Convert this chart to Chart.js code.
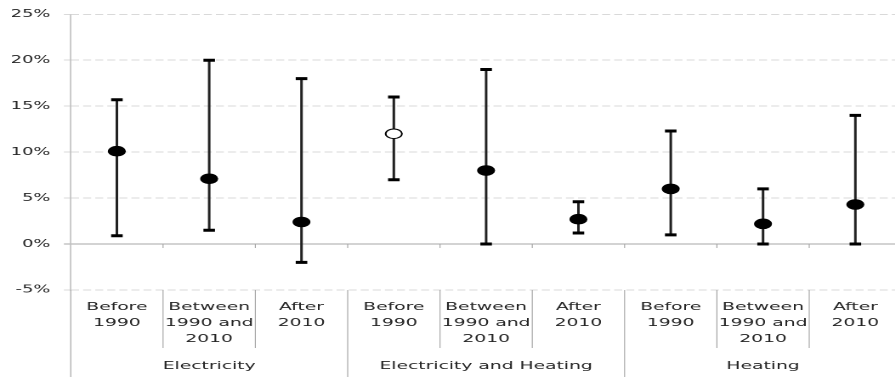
<!DOCTYPE html>
<html>
<head>
<meta charset="utf-8">
<script src="https://cdn.jsdelivr.net/npm/chart.js@4.4.1/dist/chart.umd.min.js"></script>
<style>
html,body{margin:0;padding:0;background:#fff;overflow:hidden;width:895px;height:377px;}
#wrap{position:absolute;left:0;top:0;height:377px;transform-origin:0 0;}
</style>
</head>
<body>
<div id="wrap"><canvas id="c"></canvas></div>
<script>
// ---- data ----
const subLabels = [
  ['Before', '1990'], ['Between', '1990 and', '2010'], ['After', '2010'],
  ['Before', '1990'], ['Between', '1990 and', '2010'], ['After', '2010'],
  ['Before', '1990'], ['Between', '1990 and', '2010'], ['After', '2010']
];
const groupLabels = ['Electricity', 'Electricity and Heating', 'Heating'];
const groupSize = 3;
const centralValues = [10.1, 7.1, 2.4, 12.0, 8.0, 2.7, 6.0, 2.2, 4.3];
const lowValues     = [0.9, 1.5, -2.0, 7.0, 0.0, 1.2, 1.0, 0.0, 0.0];
const highValues    = [15.7, 20.0, 18.0, 16.0, 19.0, 4.6, 12.3, 6.0, 14.0];
const markerFilled  = [true, true, true, false, true, true, true, true, true];
const yMin = -5, yMax = 25, yStep = 5;

// ---- layout (horizontal stretch like the reference) ----
const S = 1.7;
const W = 531;
const wrap = document.getElementById('wrap');
wrap.style.width = W + 'px';
wrap.style.transform = 'scaleX(' + S + ')';

const textColor = '#262626';
const gridColor = '#d9d9d9';
const axisColor = '#a6a6a6';

const sepPlugin = {
  id: 'sep',
  beforeDatasetsDraw(chart) {
    const {ctx, scales: {x, y}} = chart;
    const y0 = y.getPixelForValue(0);
    ctx.save();
    ctx.strokeStyle = axisColor;
    ctx.lineWidth = 1 / S;
    ctx.beginPath();
    for (let i = 1; i < subLabels.length; i++) {
      const px = (x.getPixelForValue(i - 1) + x.getPixelForValue(i)) / 2;
      ctx.moveTo(px, y0);
      ctx.lineTo(px, y0 + 4);
    }
    ctx.stroke();
    ctx.restore();
  },
  afterDraw(chart) {
    const {ctx, chartArea, scales: {x, x2}} = chart;
    const n = subLabels.length;
    const step = x.getPixelForValue(1) - x.getPixelForValue(0);
    ctx.save();
    ctx.strokeStyle = axisColor;
    ctx.lineWidth = 1 / S;
    ctx.beginPath();
    for (let i = 0; i <= n; i++) {
      const px = x.getPixelForValue(0) - step / 2 + i * step;
      const isGroup = i % groupSize === 0;
      ctx.moveTo(px, chartArea.bottom);
      ctx.lineTo(px, isGroup ? x2.bottom : x.bottom);
    }
    ctx.stroke();
    ctx.restore();
  }
};

new Chart(document.getElementById('c'), {
  type: 'bar',
  data: {
    labels: subLabels,
    datasets: [
      {
        type: 'line',
        label: 'central',
        data: centralValues,
        showLine: false,
        pointRadius: 4.8,
        pointBorderWidth: 1,
        pointBorderColor: '#000',
        pointBackgroundColor: markerFilled.map(f => f ? '#000' : '#fff'),
        order: 0
      },
      {
        type: 'line',
        label: 'high',
        data: highValues,
        showLine: false,
        pointStyle: 'line',
        pointRadius: 3.4,
        pointBorderWidth: 3,
        pointBorderColor: '#000',
        order: 1
      },
      {
        type: 'line',
        label: 'low',
        data: lowValues,
        showLine: false,
        pointStyle: 'line',
        pointRadius: 3.4,
        pointBorderWidth: 3,
        pointBorderColor: '#000',
        order: 1
      },
      {
        type: 'bar',
        label: 'range',
        data: lowValues.map((l, i) => [l, highValues[i]]),
        backgroundColor: '#222',
        borderWidth: 0,
        barThickness: 0.85,
        order: 2
      }
    ]
  },
  options: {
    responsive: true,
    maintainAspectRatio: false,
    devicePixelRatio: 2,
    animation: false,
    events: [],
    layout: {autoPadding: false, padding: {top: 9.3, right: 0.7, left: 0, bottom: 0}},
    plugins: {legend: {display: false}, tooltip: {enabled: false}},
    scales: {
      y: {
        min: yMin, max: yMax,
        afterFit(s) { s.width = 41.6; },
        ticks: {
          stepSize: yStep,
          padding: 8,
          color: textColor,
          font: {family: 'DejaVu Sans', size: 10.5},
          callback: v => v + '%'
        },
        grid: {
          color: ctx => (ctx.tick && ctx.tick.value === 0) ? axisColor : gridColor,
          lineWidth: 1,
          drawTicks: true,
          tickLength: 4,
          tickColor: ctx => (ctx.tick && ctx.tick.value === 0) ? axisColor : gridColor,
          tickBorderDash: ctx => (ctx.tick && ctx.tick.value === 0) ? [] : [4.7, 2.4]
        },
        border: {
          display: true,
          color: axisColor,
          width: 1 / S,
          dash: ctx => (ctx.tick && ctx.tick.value === 0) ? [] : [4.7, 2.4]
        }
      },
      x: {
        type: 'category',
        position: 'bottom',
        weight: 0,
        offset: true,
        afterFit(s) { s.height = 58; s.paddingLeft = 0; s.paddingRight = 0; },
        grid: {display: false, drawTicks: false},
        border: {display: false},
        ticks: {
          autoSkip: false, maxRotation: 0, minRotation: 0,
          padding: 9,
          color: textColor,
          font: {family: 'DejaVu Sans', size: 11, lineHeight: 16 / 11}
        }
      },
      x2: {
        type: 'category',
        position: 'bottom',
        weight: 1,
        labels: groupLabels,
        offset: true,
        afterFit(s) { s.height = 29; s.paddingLeft = 0; s.paddingRight = 0; },
        grid: {display: false, drawTicks: false},
        border: {display: false},
        ticks: {
          autoSkip: false, maxRotation: 0, minRotation: 0,
          padding: 10,
          color: textColor,
          font: {family: 'DejaVu Sans', size: 11, lineHeight: 16 / 11}
        }
      }
    }
  },
  plugins: [sepPlugin]
});
</script>
</body>
</html>
